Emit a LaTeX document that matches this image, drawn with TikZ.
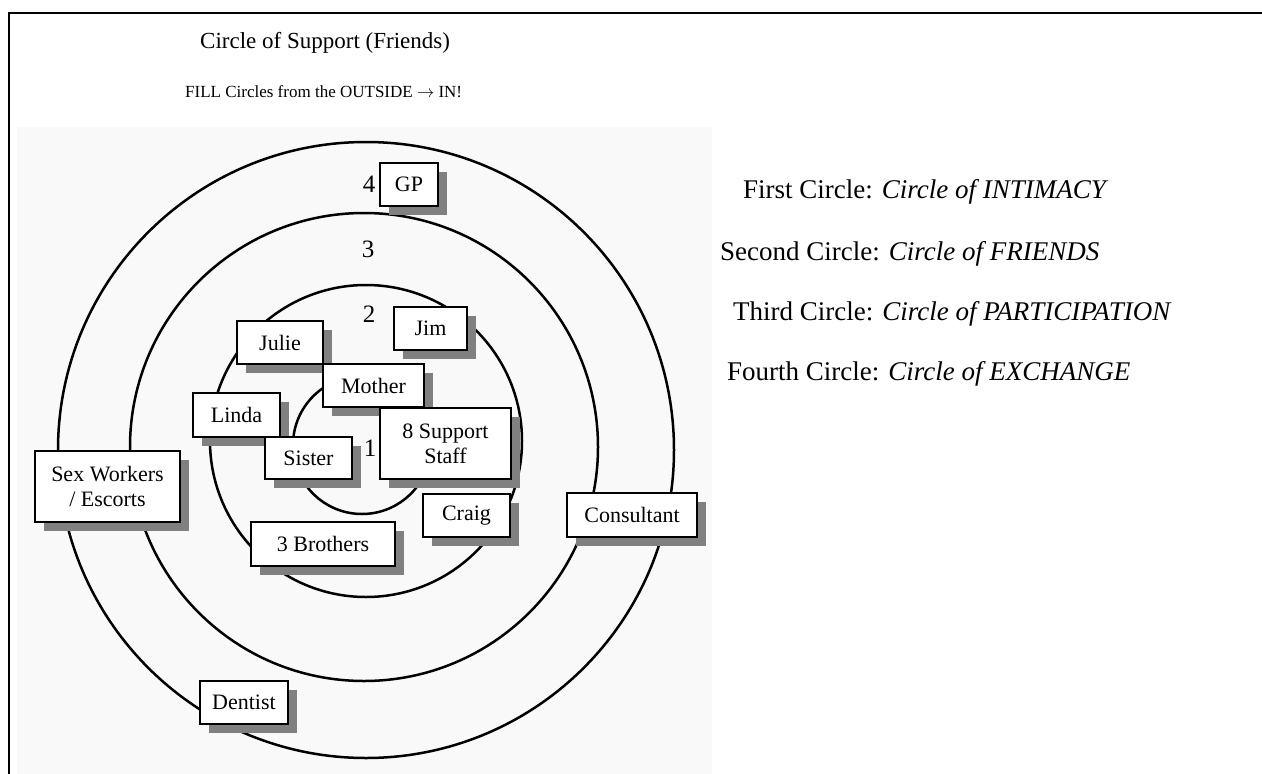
\documentclass[tikz,border=0pt]{standalone}
\usepackage{fontspec}
\setmainfont{Liberation Serif}
\usetikzlibrary{shadows}
\definecolor{shadowgray}{RGB}{128,128,128}
\definecolor{panelgray}{RGB}{249,249,249}

\begin{document}
\begin{tikzpicture}[x=1pt,y=-1pt]
  % overall canvas
  \useasboundingbox (0,0) rectangle (1262,774);

  % styles
  \tikzset{
    ring/.style={draw=black,line width=2.5pt},
    card/.style={draw=black,fill=white,line width=1.3pt,inner sep=0pt,
      font=\fontsize{22}{25}\selectfont,align=center,
      drop shadow={shadow xshift=9pt,shadow yshift=-9pt,opacity=1,fill=shadowgray}},
    num/.style={font=\fontsize{25}{27}\selectfont,inner sep=0pt},
    legend/.style={font=\fontsize{27}{29}\selectfont,anchor=base west,inner sep=0pt},
  }

  % white background, grey panel and frame
  \fill[white] (0,0) rectangle (1262,774);
  \fill[panelgray] (17,127) rectangle (712,774);
  \draw[line width=2pt] (9,774) -- (9,13) -- (1262,13);

  % headings
  \node[font=\fontsize{23}{25}\selectfont,anchor=base west,inner sep=0pt] (title) at (200,48) {Circle of Support (Friends)};
  \node[font=\fontsize{17}{19}\selectfont,anchor=base west,inner sep=0pt] (hint) at (185,97) {FILL Circles from the OUTSIDE $\rightarrow$ IN!};

  % the four circles
  \draw[ring] (366,450) circle[radius=308];
  \draw[ring] (364,447) circle[radius=234];
  \draw[ring] (366,441) circle[radius=156];
  \draw[ring] (362,445) circle[radius=69];

  % circle numbers
  \node[num] (n4) at (369,184) {4};
  \node[num] (n3) at (368,249) {3};
  \node[num] (n2) at (369,314) {2};
  \node[num] (n1) at (370,448) {1};

  % people
  \node[card,minimum width=58pt,minimum height=43pt] (gp) at (409,184.5) {GP};
  \node[card,minimum width=86pt,minimum height=43pt] (julie) at (280,342.5) {Julie};
  \node[card,minimum width=73pt,minimum height=43pt] (jim) at (430.5,328.5) {Jim};
  \node[card,minimum width=87pt,minimum height=44pt] (linda) at (236.5,415) {Linda};
  \node[card,minimum width=101pt,minimum height=43pt] (mother) at (373.5,385.5) {Mother};
  \node[card,minimum width=87pt,minimum height=42pt] (sister) at (308.5,458) {Sister};
  \node[card,minimum width=131pt,minimum height=71pt] (staff) at (445.5,443.5) {8 Support\\Staff};
  \node[card,minimum width=87pt,minimum height=43pt] (craig) at (466.5,515.5) {Craig};
  \node[card,minimum width=144pt,minimum height=44pt] (brothers) at (323,544) {3 Brothers};
  \node[card,minimum width=145pt,minimum height=71pt] (escorts) at (107.5,486.5) {Sex Workers\\/ Escorts};
  \node[card,minimum width=130pt,minimum height=44pt] (consultant) at (632,515) {Consultant};
  \node[card,minimum width=88pt,minimum height=43pt] (dentist) at (244,702.5) {Dentist};

  % legend on the right
  \node[legend] (first) at (743,198) {First Circle: \textit{Circle of INTIMACY}};
  \node[legend] (second) at (720,260) {Second Circle: \textit{Circle of FRIENDS}};
  \node[legend] (third) at (733,320) {Third Circle: \textit{Circle of PARTICIPATION}};
  \node[legend] (fourth) at (727,380) {Fourth Circle: \textit{Circle of EXCHANGE}};
\end{tikzpicture}
\end{document}
